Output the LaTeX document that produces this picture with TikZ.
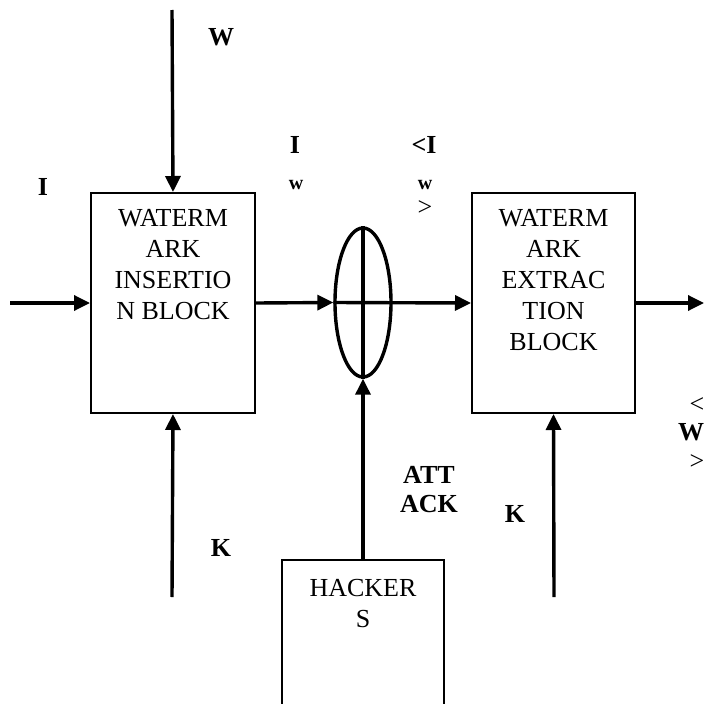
\documentclass[tikz,border=0pt]{standalone}
\usepackage{fontspec}
\setmainfont{Liberation Serif}
\usetikzlibrary{arrows.meta,shapes.geometric}
\begin{document}
\begin{tikzpicture}[x=1pt,y=-1pt,
  blk/.style={draw,line width=2pt,minimum width=164pt,minimum height=220pt,inner sep=0pt},
  btxt/.style={anchor=north,align=center,inner sep=0pt,font=\fontsize{26}{31}\selectfont},
  lbl/.style={inner sep=0pt,font=\fontsize{26}{31}\selectfont\bfseries},
  sml/.style={inner sep=0pt,font=\fontsize{20}{24}\selectfont\bfseries},
  rlb/.style={inner sep=0pt,font=\fontsize{26}{31}\selectfont},
  arr/.style={line width=3.4pt,-{Triangle[length=16pt,width=15pt]}},
  ln/.style={line width=3.4pt}]
\useasboundingbox (0,0) rectangle (705,704);
% blocks
\node[blk] (ins) at (173,303) {};
\node[blk,minimum width=163pt] (ext) at (553.5,303) {};
\node[btxt] (instxt) at ([yshift=-17pt]ins.north) {WATERM\\ARK\\INSERTIO\\N BLOCK};
\node[btxt] (exttxt) at ([yshift=-17pt]ext.north) {WATERM\\ARK\\EXTRAC\\TION\\BLOCK};
\node[draw,ellipse,line width=3.4pt,minimum width=56pt,minimum height=149pt,inner sep=0pt] (ell) at (363,302.5) {};
\node[draw,line width=2pt,minimum width=162pt,minimum height=220pt,inner sep=0pt,anchor=north] (hk) at (363,559) {};
\node[btxt] (hktxt) at ([yshift=-20pt]hk.north) {HACKER\\S};
% free ends
\coordinate (iin) at (10,303);
\coordinate (wtop) at (172,10);
\coordinate (k1) at (172,597);
\coordinate (k2) at (554,597);
\coordinate (out) at (704,303);
% connectors
\draw[arr] (iin) -- (ins.west);
\draw[arr] (wtop) -- (ins.north);
\draw[arr] (k1) -- (ins.south);
\draw[arr] (ins.east) -- (ell.west);
\draw[arr] (ell.west) -- (ext.west);
\draw[ln] (ell.north) -- (ell.south);
\draw[arr] (hk.north) -- (ell.south);
\draw[arr] (k2) -- (ext.south);
\draw[arr] (ext.east) -- (out);
% labels
\node[lbl] (lw) at (221,37) {W};
\node[lbl] (li) at (43,187) {I};
\node[lbl] (liw) at (295,145) {I};
\node[sml] (liww) at (296,185) {w};
\node[lbl] (lai) at (424,145) {<I};
\node[sml] (laiw) at (425,185) {w};
\node[rlb] (laig) at (425,208) {>};
\node[lbl] (lk1) at (221,548) {K};
\node[lbl,align=center,font=\fontsize{26}{29}\selectfont\bfseries] (latt) at (429,490) {ATT\\ACK};
\node[lbl] (lk2) at (515,514) {K};
\node[rlb] (rlt) at (697,405) {<};
\node[lbl] (rw) at (691,432) {W};
\node[rlb] (rgt) at (697,462) {>};
\end{tikzpicture}
\end{document}
